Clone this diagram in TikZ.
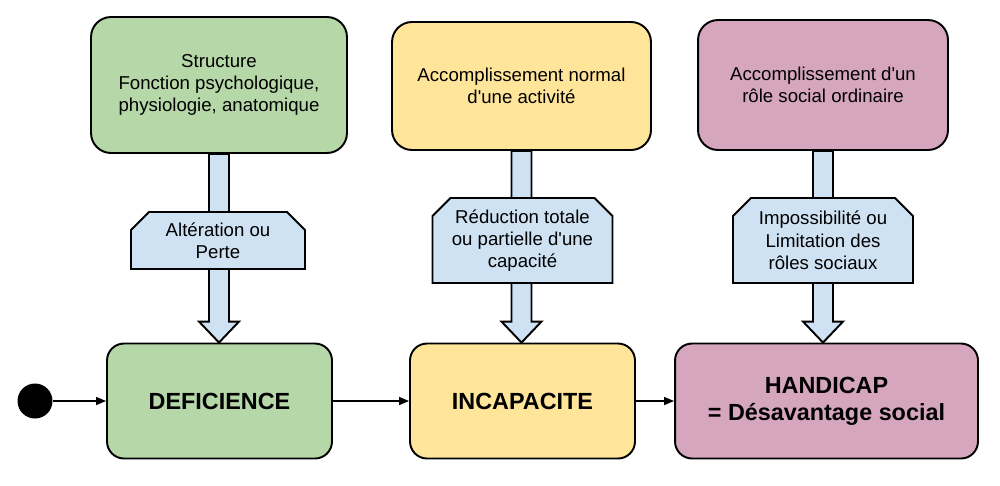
\documentclass[tikz,border=0pt]{standalone}
\usepackage{fontspec}
\setmainfont{Liberation Sans}
\usetikzlibrary{shapes.misc,arrows.meta,calc}

\definecolor{vert}{HTML}{B6D7A8}
\definecolor{jaune}{HTML}{FFE599}
\definecolor{rose}{HTML}{D5A6BD}
\definecolor{bleu}{HTML}{CFE2F3}

\tikzset{
    haut/.style={draw, line width=1.1pt, rounded corners=0.4cm, align=center, inner sep=0pt,
        font=\fontsize{10.6}{12.5}\selectfont},
    etat/.style={draw, line width=1.1pt, rounded corners=0.34cm, align=center, inner sep=0pt,
        minimum width=4.5cm, minimum height=2.3cm, font=\fontsize{13.3}{15.5}\selectfont\bfseries},
    etiquette/.style={draw, fill=bleu, line width=1.1pt, chamfered rectangle,
        chamfered rectangle corners={north west,north east}, chamfered rectangle sep=0.18cm,
        align=center, inner sep=0pt, minimum width=3.6cm, font=\fontsize{10.6}{12.7}\selectfont},
    fleche/.style={draw, fill=bleu, line width=1.1pt},
    lien/.style={line width=0.8pt, -{Triangle[length=0.2cm,width=0.16cm]}}
}

\begin{document}
\begin{tikzpicture}[x=0.02cm, y=-0.02cm]
    \useasboundingbox (0,0) rectangle (1000,485);

    % Situations de depart
    \node[haut, fill=vert, minimum width=5.12cm, minimum height=2.72cm] (struct) at (219,85) {Structure\\Fonction psychologique,\\physiologie, anatomique};
    \node[haut, fill=jaune, minimum width=5.18cm, minimum height=2.56cm] (activ) at (521.5,86) {Accomplissement normal\\d\textquotesingle une activité};
    \node[haut, fill=rose, minimum width=5cm, minimum height=2.6cm] (role) at (823,85) {Accomplissement d\textquotesingle un\\rôle social ordinaire};

    % Etats
    \node[circle, fill=black, minimum size=0.7cm, inner sep=0pt] (debut) at (35,401) {};
    \node[etat, fill=vert] (defic) at (219.5,401) {DEFICIENCE};
    \node[etat, fill=jaune] (incap) at (522.5,401) {INCAPACITE};
    \node[etat, fill=rose, minimum width=6.06cm] (handi) at (826.5,401) {HANDICAP\\= Désavantage social};

    % Grosses fleches
    \foreach \a/\b in {struct/defic, activ/incap, role/handi}
        \draw[fleche] let \p1=(\a.south), \p2=(\b.north) in
            (\x1-0.2cm,\y1) -- (\x1-0.2cm,\y2+0.42cm) -- (\x1-0.4cm,\y2+0.42cm) -- (\x1,\y2)
            -- (\x1+0.4cm,\y2+0.42cm) -- (\x1+0.2cm,\y2+0.42cm) -- (\x1+0.2cm,\y1) -- cycle;

    % Etiquettes
    \node[etiquette, minimum width=3.48cm, minimum height=1.14cm] (alter) at (218,240.5) {Altération ou\\Perte};
    \node[etiquette, minimum height=1.7cm] (reduc) at (522.5,240.5) {Réduction totale\\ou partielle d\textquotesingle une\\capacité};
    \node[etiquette, minimum height=1.7cm] (impos) at (823,240.5) {Impossibilité ou\\Limitation des\\rôles sociaux};

    % Liens
    \draw[lien] (debut) -- (defic);
    \draw[lien] (defic) -- (incap);
    \draw[lien] (incap) -- (handi);
\end{tikzpicture}
\end{document}
